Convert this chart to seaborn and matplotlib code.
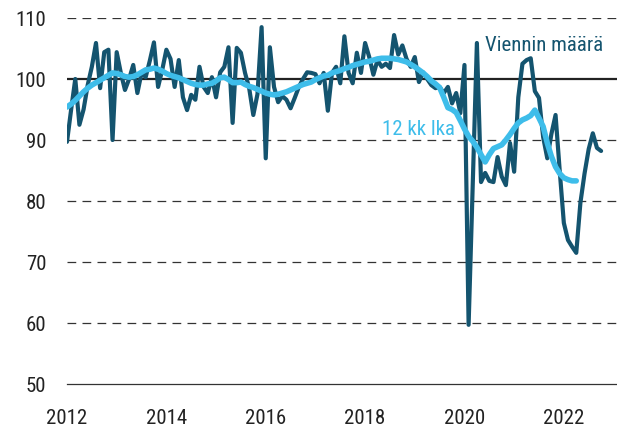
import numpy as np
import pandas as pd
import matplotlib
matplotlib.use("Agg")
import matplotlib.pyplot as plt
from matplotlib import font_manager
import seaborn as sns

# monthly export volume index, Jan 2012 ->
export_volume = [
    89.7, 95.0, 100.0, 92.5, 95.0, 99.0, 102.0, 105.9, 98.5, 104.4, 104.8, 90.0,
    104.4, 101.0, 98.2, 100.0, 102.3, 97.7, 101.0, 100.3, 103.0, 106.0, 98.7, 101.5,
    104.8, 103.3, 98.7, 103.1, 97.0, 94.9, 97.4, 96.6, 102.0, 98.7, 97.7, 100.3,
    97.0, 101.1, 102.0, 105.2, 92.8, 105.1, 104.3, 101.0, 98.5, 94.1, 97.5, 108.5,
    87.0, 105.2, 98.7, 96.2, 97.2, 96.6, 95.2, 96.9, 98.7, 100.0, 101.1, 101.0,
    100.8, 99.3, 101.0, 94.8, 101.0, 102.0, 99.3, 107.0, 101.0, 99.3, 104.3, 101.0,
    105.9, 103.6, 100.7, 103.1, 102.0, 102.5, 101.8, 107.2, 104.0, 105.5, 103.3, 102.0,
    103.6, 99.5, 101.1, 100.0, 99.0, 98.5, 98.7, 97.7, 98.7, 96.0, 97.7, 94.4,
    102.3, 59.7, 83.0, 105.9, 83.1, 84.6, 83.3, 83.1, 87.2, 84.0, 82.6, 89.5,
    84.8, 97.0, 102.5, 103.1, 103.4, 98.0, 96.9, 90.5, 87.0, 91.0, 94.1, 85.0,
    76.4, 73.6, 72.5, 71.5, 79.7, 84.5, 88.5, 91.1, 88.7, 88.2,
]

# 12 month moving average, Jan 2012 ->
moving_avg = [
    95.4, 95.9, 96.5, 97.2, 97.9, 98.5, 99.0, 99.4, 99.8, 100.2, 100.6, 101.0,
    100.9, 100.7, 100.4, 100.3, 100.4, 100.7, 101.1, 101.5, 101.6, 101.8, 101.6, 101.3,
    100.9, 100.6, 100.4, 100.2, 99.9, 99.6, 99.3, 99.1, 99.0, 99.0, 99.2, 99.3,
    99.7, 100.2, 100.3, 99.9, 99.4, 99.4, 99.5, 99.1, 98.8, 98.6, 98.3, 98.0,
    97.7, 97.5, 97.4, 97.5, 97.7, 97.9, 98.2, 98.5, 98.8, 99.1, 99.3, 99.5,
    99.9, 100.2, 100.5, 100.6, 101.0, 101.2, 101.4, 101.7, 101.9, 102.2, 102.4, 102.6,
    102.8, 102.9, 103.1, 103.3, 103.4, 103.4, 103.4, 103.3, 103.2, 103.0, 102.8, 102.4,
    102.0, 101.5, 101.0, 100.4, 99.7, 99.2, 98.6, 97.0, 95.3, 95.0, 94.5, 93.2,
    91.8, 90.6, 89.8, 88.8, 87.6, 86.4, 87.6, 88.6, 88.9, 89.2, 90.0, 90.9,
    91.9, 92.8, 93.3, 93.6, 94.0, 94.9, 93.6, 92.2, 89.5, 87.3, 85.6, 84.5,
    83.8, 83.5, 83.3, 83.3,
]

year_ticks = list(range(2012, 2024))
year_labels = [str(y) if y % 2 == 0 else "" for y in year_ticks]
y_ticks = [50, 60, 70, 80, 90, 100, 110]

dark = "#14546F"
light = "#3EBDEA"

df_exp = pd.DataFrame({"t": 2012 + np.arange(len(export_volume)) / 12, "v": export_volume})
df_avg = pd.DataFrame({"t": 2012 + np.arange(len(moving_avg)) / 12, "v": moving_avg})

sns.set_style("white")

# narrow font if there is one
installed = {f.name for f in font_manager.fontManager.ttflist}
narrow = [n for n in ["Roboto Condensed", "Liberation Sans Narrow", "DejaVu Sans Condensed",
                      "Open Sans Condensed"] if n in installed]
if narrow:
    plt.rcParams["font.family"] = [narrow[0], "DejaVu Sans"]
    fs = 15
else:
    plt.rcParams["font.family"] = ["Roboto", "DejaVu Sans"]
    fs = 13.5

fig = plt.figure(figsize=(6.17, 4.36), dpi=100)
ax = fig.add_axes([67 / 617, 52 / 436, 550 / 617, 366 / 436])

# grid lines
for y in y_ticks[1:]:
    if y == 100:
        ax.axhline(y, color="#222222", lw=1.6, zorder=1)
    else:
        ax.axhline(y, color="#333333", lw=0.9, ls=(0, (7, 5)), zorder=1)

sns.lineplot(data=df_exp, x="t", y="v", ax=ax, color=dark, lw=3.0, zorder=3)
sns.lineplot(data=df_avg, x="t", y="v", ax=ax, color=light, lw=4.0, zorder=4)

ax.text(2021.6, 105.5, "Viennin määrä", color=dark, fontsize=fs, ha="center", va="center")
ax.text(2019.08, 91.8, "12 kk lka", color=light, fontsize=fs, ha="center", va="center")

ax.set_xlim(2012, 2023.07)
ax.set_ylim(50, 110)
ax.set_xticks(year_ticks)
ax.set_xticklabels(year_labels)
ax.set_yticks(y_ticks)
ax.set_xlabel("")
ax.set_ylabel("")
ax.tick_params(axis="x", direction="in", length=5, width=0.9, color="#333333",
               pad=18, labelsize=fs, labelcolor="#222222")
ax.tick_params(axis="y", length=0, pad=15, labelsize=fs, labelcolor="#222222")

for side in ["top", "right", "left"]:
    ax.spines[side].set_visible(False)
ax.spines["bottom"].set_color("#333333")
ax.spines["bottom"].set_linewidth(0.9)

fig.savefig("out.png", dpi=100)
